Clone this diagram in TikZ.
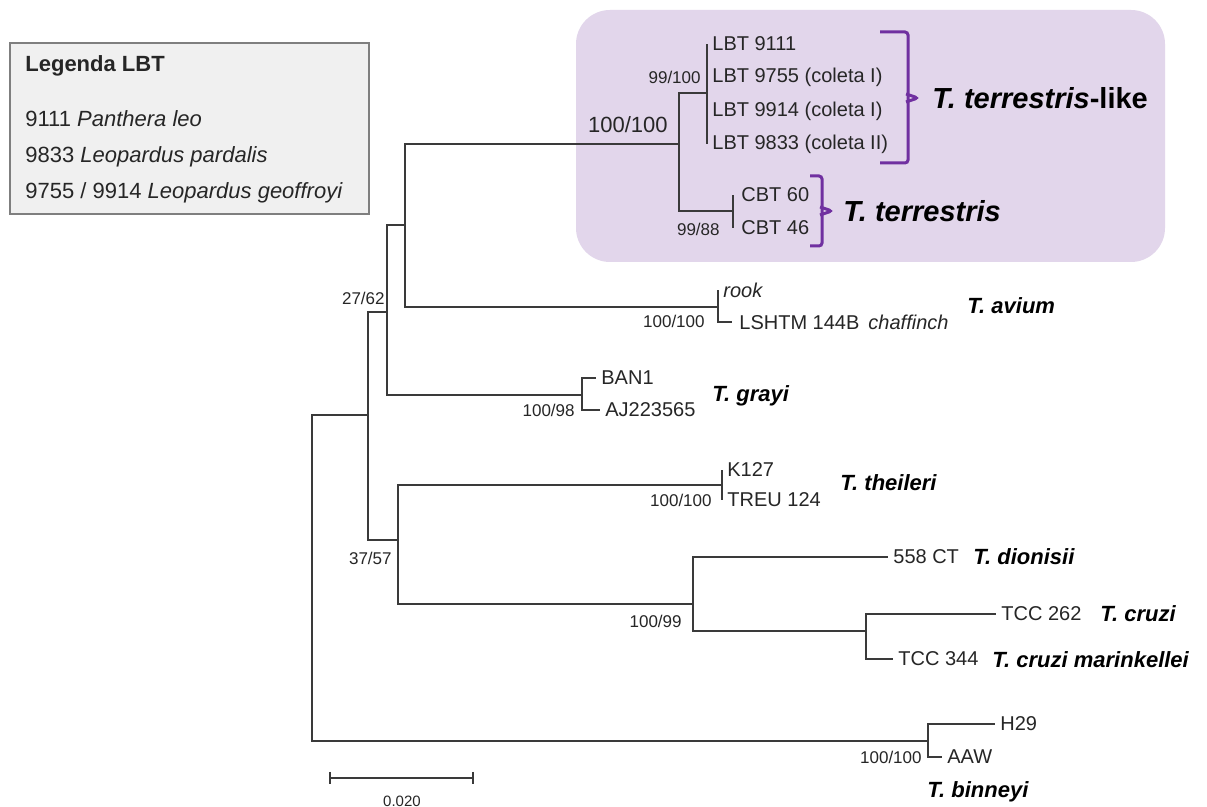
\documentclass[tikz,border=0pt]{standalone}
\usepackage{fontspec}
\setmainfont{Liberation Sans}
\usetikzlibrary{calc}

\definecolor{corgalho}{HTML}{3A3A3A}
\definecolor{cortexto}{HTML}{262626}
\definecolor{lilas}{HTML}{E2D6EB}
\definecolor{roxo}{HTML}{7030A0}
\definecolor{cinzaleg}{HTML}{F0F0F0}
\definecolor{bordaleg}{HTML}{7F7F7F}

\tikzset{
  galho/.style={draw=corgalho, line width=0.6pt},
  folha/.style={anchor=west, inner sep=0pt, xshift=2.5pt, text=cortexto, font=\fontsize{10}{12}\selectfont},
  boot/.style={anchor=east, inner sep=0pt, text=cortexto, font=\fontsize{8.5}{10}\selectfont},
  especie/.style={anchor=west, inner sep=0pt, text=black, font=\fontsize{11}{13}\selectfont\bfseries\itshape},
  especiegrande/.style={especie, font=\fontsize{14.5}{17}\selectfont\bfseries\itshape},
  legtexto/.style={anchor=west, inner sep=0pt, text=cortexto, font=\fontsize{11}{13}\selectfont},
  chave/.style={draw=roxo, line width=1.5pt, rounded corners=1.5pt},
}

\begin{document}
\begin{tikzpicture}[x=0.5pt, y=-0.5pt]

    % 0. Moldura da figura (1 unidade = 1 pixel da imagem, y para baixo)
    \fill[white] (0,0) rectangle (1207,807);
    \useasboundingbox (0,0) rectangle (1207,807);

    % 1. Caixa lilás do clado T. terrestris e caixa da legenda
    \fill[lilas, rounded corners=17pt] (576,10) rectangle (1165,262);
    \draw[draw=bordaleg, fill=cinzaleg, line width=0.6pt] (10,43) rectangle (369,214);

    \node[legtexto, font=\fontsize{11}{13}\selectfont\bfseries] (legtit) at (25,66) {Legenda LBT};
    \node[legtexto] (leg9111) at (25,119) {9111 \textit{Panthera leo}};
    \node[legtexto] (leg9833) at (25,157) {9833 \textit{Leopardus pardalis}};
    \node[legtexto] (leg9755) at (25,193) {9755 / 9914 \textit{Leopardus geoffroyi}};

    % 2. Pontas (folhas) da árvore
    \coordinate (t9111) at (707,44);
    \coordinate (t9755) at (707,77);
    \coordinate (t9914) at (707,111);
    \coordinate (t9833) at (707,144);
    \coordinate (cbt60) at (733,195);
    \coordinate (cbt46) at (733,228);
    \coordinate (rook) at (718,290);
    \coordinate (lshtm) at (732,322);
    \coordinate (ban1) at (596,378);
    \coordinate (aj) at (600,410);
    \coordinate (k127) at (722,470);
    \coordinate (treu) at (722,500);
    \coordinate (ct558) at (888,557);
    \coordinate (tcc262) at (996,614);
    \coordinate (tcc344) at (893,659);
    \coordinate (h29) at (995,724);
    \coordinate (aaw) at (942,757);

    % 3. Nós internos (posição do traço vertical de cada nó)
    \coordinate (raiz) at (312,578);
    \coordinate (nA) at (368,415);
    \coordinate (n2762) at (387,312);
    \coordinate (nB) at (405,225);
    \coordinate (nTerr) at (679,144);
    \coordinate (nLike) at (707,93);
    \coordinate (nCbt) at (733,211);
    \coordinate (nAvium) at (718,307);
    \coordinate (nGrayi) at (582,395);
    \coordinate (n3757) at (398,540);
    \coordinate (nTheil) at (722,485);
    \coordinate (nDC) at (693,604);
    \coordinate (nCruzi) at (866,631);
    \coordinate (nBinn) at (928,741);

    % 4. Galhos: do nó pai desce/sobe na vertical e segue na horizontal até o filho
    \draw[galho] (raiz) |- (nA) (raiz) |- (nBinn);
    \draw[galho] (nA) |- (n2762) (nA) |- (n3757);
    \draw[galho] (n2762) |- (nB) (n2762) |- (nGrayi);
    \draw[galho] (nB) |- (nTerr) (nB) |- (nAvium);
    \draw[galho] (nTerr) |- (nLike) (nTerr) |- (nCbt);
    \draw[galho] (nLike) |- (t9111) (nLike) |- (t9833);
    \draw[galho] (nCbt) |- (cbt60) (nCbt) |- (cbt46);
    \draw[galho] (nAvium) |- (rook) (nAvium) |- (lshtm);
    \draw[galho] (nGrayi) |- (ban1) (nGrayi) |- (aj);
    \draw[galho] (n3757) |- (nTheil) (n3757) |- (nDC);
    \draw[galho] (nTheil) |- (k127) (nTheil) |- (treu);
    \draw[galho] (nDC) |- (ct558) (nDC) |- (nCruzi);
    \draw[galho] (nCruzi) |- (tcc262) (nCruzi) |- (tcc344);
    \draw[galho] (nBinn) |- (h29) (nBinn) |- (aaw);

    % 5. Rótulos das pontas
    \node[folha] (l9111) at (t9111) {LBT 9111};
    \node[folha] (l9755) at (t9755) {LBT 9755 (coleta I)};
    \node[folha] (l9914) at (t9914) {LBT 9914 (coleta I)};
    \node[folha] (l9833) at (t9833) {LBT 9833 (coleta II)};
    \node[folha, xshift=1.5pt] (lcbt60) at (cbt60) {CBT 60};
    \node[folha, xshift=1.5pt] (lcbt46) at (cbt46) {CBT 46};
    \node[folha] (lrook) at (rook) {\textit{rook}};
    \node[folha, xshift=1pt] (llshtm) at (lshtm) {LSHTM 144B\hspace{0.45em}\textit{chaffinch}};
    \node[folha] (lban1) at (ban1) {BAN1};
    \node[folha] (laj) at (aj) {AJ223565};
    \node[folha] (lk127) at (k127) {K127};
    \node[folha] (ltreu) at (treu) {TREU 124};
    \node[folha] (l558) at (ct558) {558 CT};
    \node[folha] (l262) at (tcc262) {TCC 262};
    \node[folha] (l344) at (tcc344) {TCC 344};
    \node[folha] (lh29) at (h29) {H29};
    \node[folha] (laaw) at (aaw) {AAW};

    % 6. Valores de suporte (bootstrap) à esquerda de cada nó
    \node[boot] (b9100) at ($(nLike)+(-6,-16)$) {99/100};
    \node[boot, font=\fontsize{11}{13}\selectfont] (bterr) at ($(nTerr)+(-11,-19)$) {100/100};
    \node[boot] (b9988) at ($(nCbt)+(-13,18)$) {99/88};
    \node[boot] (b2762) at ($(n2762)+(-2,-14)$) {27/62};
    \node[boot] (bavium) at ($(nAvium)+(-13,14)$) {100/100};
    \node[boot] (bgrayi) at ($(nGrayi)+(-7,15)$) {100/98};
    \node[boot] (b3757) at ($(n3757)+(-6,18)$) {37/57};
    \node[boot] (btheil) at ($(nTheil)+(-10,15)$) {100/100};
    \node[boot] (bdc) at ($(nDC)+(-11,17)$) {100/99};
    \node[boot] (bbinn) at ($(nBinn)+(-6,16)$) {100/100};

    % 7. Chaves roxas e nomes das espécies
    \draw[chave] (880,32) -- (908,32) -- (908,163) -- (880,163);
    \draw[chave] (906,94) -- (918,98) -- (906,102);
    \draw[chave] (810,176) -- (822,176) -- (822,246) -- (810,246);
    \draw[chave] (820,207) -- (832,211) -- (820,215);

    \node[especiegrande] (slike) at (932,98) {T. terrestris\textup{-like}};
    \node[especiegrande] (sterr) at (843,211) {T. terrestris};
    \node[especie] (savium) at (967,306) {T. avium};
    \node[especie] (sgrayi) at (712,396) {T. grayi};
    \node[especie] (stheil) at (840,483) {T. theileri};
    \node[especie] (sdion) at (973,557) {T. dionisii};
    \node[especie] (scruzi) at (1100,614) {T. cruzi};
    \node[especie] (smarin) at (992,660) {T. cruzi marinkellei};
    \node[especie] (sbinn) at (927,792) {T. binneyi};

    % 8. Barra de escala
    \draw[galho] (330,772) -- (330,784) (330,778) -- (473,778) (473,772) -- (473,784);
    \node[boot, anchor=center, font=\fontsize{7.5}{9}\selectfont] (escala) at (402,801) {0.020};

\end{tikzpicture}
\end{document}
